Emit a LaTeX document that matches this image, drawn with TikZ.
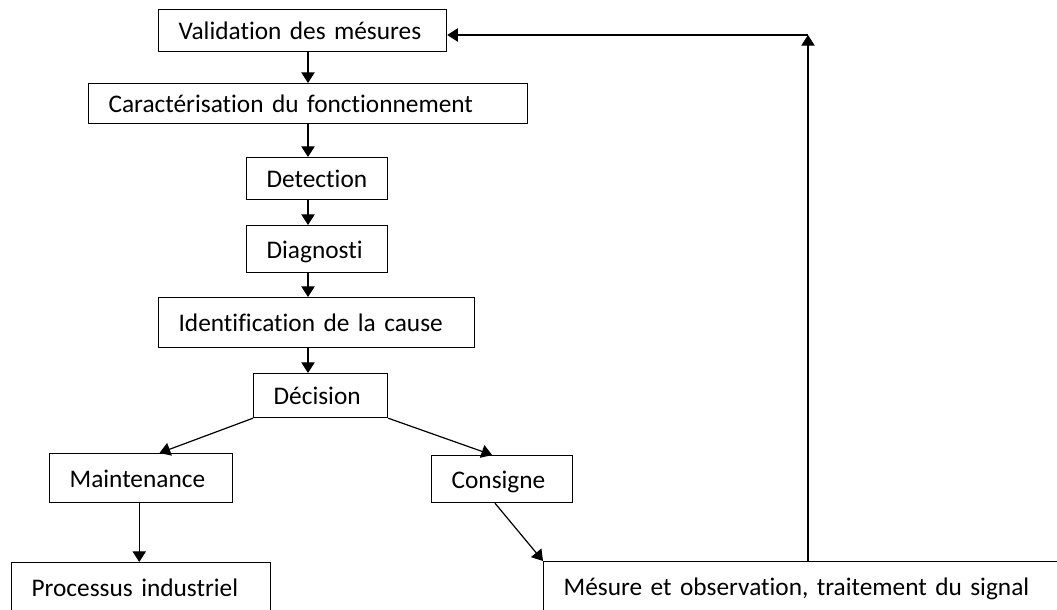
\documentclass[tikz,border=0pt]{standalone}
\usepackage{fontspec}
\setmainfont{Carlito}[Ligatures={NoCommon}]
\usetikzlibrary{arrows.meta,calc}

\tikzset{
  bloc/.style={draw, line width=0.9pt, anchor=north west, align=left, inner xsep=15pt, inner ysep=0pt, text height=15pt, text depth=1pt, font=\fontsize{19}{22}\selectfont},
  fleche/.style={line width=0.9pt, -{Triangle[length=8pt,width=10pt]}}
}

\begin{document}
\begin{tikzpicture}[x=0.75pt,y=0.75pt,yscale=-1,xscale=1]
\clip (0,0) rectangle (1057,610);

% Boxes
\node[bloc, text width=186pt, minimum height=31.5pt] (valid) at (158,9) {Validation des mésures};
\node[bloc, text width=299.25pt, minimum height=30pt] (caract) at (88,83) {Caractérisation du fonctionnement};
\node[bloc, text width=75.75pt, minimum height=31.5pt] (detect) at (246,157) {Detection};
\node[bloc, text width=75.75pt, minimum height=35.25pt] (diag) at (246,225) {Diagnosti};
\node[bloc, text width=207pt, minimum height=37.5pt] (ident) at (158,297) {Identification de la cause};
\node[bloc, text width=70.5pt, minimum height=33pt] (decis) at (253,373) {Décision};
\node[bloc, text width=107.25pt, minimum height=36.75pt] (maint) at (49,453) {Maintenance};
\node[bloc, text width=75.75pt, minimum height=35.25pt] (cons) at (431,455) {Consigne};
\node[bloc, text width=164.25pt, minimum height=37.5pt] (proc) at (11,562) {Processus industriel};
\node[bloc, text width=365.25pt, minimum height=37.5pt] (mes) at (543,561) {Mésure et observation, traitement du signal};

% Main chain
\coordinate (axe) at (308,0);
\draw[fleche] (valid.south -| axe) -- (caract.north -| axe);
\draw[fleche] (caract.south -| axe) -- (detect.north -| axe);
\draw[fleche] (detect.south -| axe) -- (diag.north -| axe);
\draw[fleche] (diag.south -| axe) -- (ident.north -| axe);
\draw[fleche] (ident.south -| axe) -- (decis.north -| axe);

% Branches
\coordinate (mbas) at ($(maint.south west)!0.49!(maint.south east)$);
\draw[fleche] (decis.south west) -- ($(maint.north west)!0.6!(maint.north east)$);
\draw[fleche] (decis.south east) -- ($(cons.north west)!0.43!(cons.north east)$);
\draw[fleche] (mbas) -- (mbas |- proc.north);
\draw[fleche] ($(cons.south west)!0.45!(cons.south east)$) -- (mes.north west);

% Feedback
\coordinate (coin) at (808,35);
\draw[fleche] (mes.north -| coin) -- (coin);
\draw[fleche] (coin) -- (valid.east |- coin);

\end{tikzpicture}
\end{document}
